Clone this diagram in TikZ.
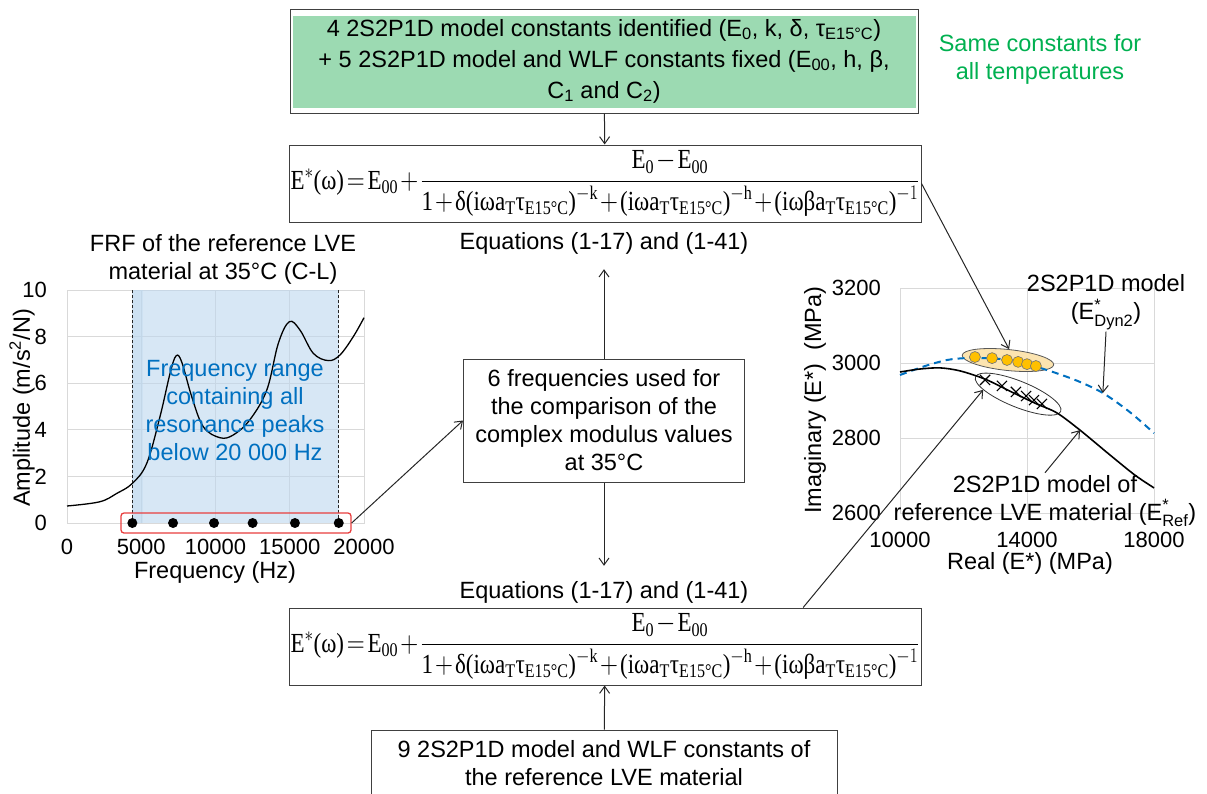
\documentclass[tikz,border=0pt]{standalone}
\usepackage{amsmath}
\usepackage{graphicx}
\usepackage{fontspec}
\setmainfont{Liberation Sans}
\newfontfamily\eqfont{Liberation Serif}
\usetikzlibrary{arrows.meta,positioning,shapes.geometric,shapes.misc,calc}
\definecolor{boxgreen}{RGB}{156,218,178}
\definecolor{txtgreen}{RGB}{0,176,80}
\definecolor{txtblue}{RGB}{0,112,192}
\definecolor{shadeblue}{RGB}{189,215,238}
\definecolor{gridgray}{RGB}{217,217,217}
\definecolor{dotorange}{RGB}{255,192,0}
\definecolor{ellorange}{RGB}{252,228,176}
\definecolor{markred}{RGB}{232,62,62}
\newcommand{\boxfont}{\fontsize{23.5}{28}\selectfont}
\newcommand{\rt}[1]{\text{\eqfont #1}}
\newcommand{\tauE}{\rt{τ}_{\rt{E15°C}}}
\newcommand{\aT}{\rt{a}_{\rt{T}}}
\newcommand{\modeleq}{\scalebox{1}[1.2]{$\medmuskip=1.5mu\thickmuskip=2mu\rt{E}^{*}\rt{(ω)}=\rt{E}_{\rt{00}}+\dfrac{\rt{E}_{\rt{0}}-\rt{E}_{\rt{00}}}{\rt{1}+\rt{δ(iω}\aT\tauE\rt{)}^{-\rt{k}}+\rt{(iω}\aT\tauE\rt{)}^{-\rt{h}}+\rt{(iωβ}\aT\tauE\rt{)}^{-1}}$}}
\tikzset{
 flow/.style={rectangle,draw=black!75,line width=1pt,fill=white,align=center,font=\boxfont,inner sep=0pt},
 greenbox/.style={flow,minimum width=628pt,minimum height=104pt,font=\fontsize{23.5}{31}\selectfont,path picture={\fill[boxgreen] ([xshift=3pt,yshift=-7pt]path picture bounding box.north west) rectangle ([xshift=-2pt,yshift=5pt]path picture bounding box.south east);}},
 eqbox/.style={flow,minimum width=632pt,minimum height=77pt,font=\fontsize{23}{27}\selectfont},
 eqlabel/.style={font=\boxfont,inner sep=0pt,minimum height=52pt},
 note/.style={font=\boxfont,align=center,inner sep=2pt},
 ticklab/.style={font=\fontsize{22}{24}\selectfont,inner sep=0pt},
 gridline/.style={draw=gridgray,line width=1pt},
 rangeline/.style={draw=black!85,line width=1pt,dash pattern=on 3pt off 2pt},
 arrow/.style={-{Straight Barb[length=7pt,width=10pt]},line width=1pt,draw=black!85}}
\begin{document}
\begin{tikzpicture}[x=1pt,y=-1pt]
\useasboundingbox (0,0) rectangle (1207,793);
\node[greenbox] (fitted) at (604,61) {4 2S2P1D model constants identified (E\textsubscript{0}, k, δ, τ\textsubscript{E15°C})\\+ 5 2S2P1D model and WLF constants fixed (E\textsubscript{00}, h, β,\\C\textsubscript{1} and C\textsubscript{2})};
\node[note,text=txtgreen] (same) at (1040,59) {Same constants for\\all temperatures};
\node[eqbox] (eqtop) at (605,183.5) {\modeleq};
\node[eqlabel] (eqlab1) at (604,243) {Equations (1-17) and (1-41)};
\node[flow,minimum width=281pt,minimum height=123pt] (freqs) at (604,420.5) {6 frequencies used for\\the comparison of the\\complex modulus values\\at 35°C};
\node[eqlabel] (eqlab2) at (604,592) {Equations (1-17) and (1-41)};
\node[eqbox] (eqbottom) at (605,646.5) {\modeleq};
\node[flow,minimum width=466pt,minimum height=67pt] (refconst) at (604,763.5) {9 2S2P1D model and WLF constants of\\the reference LVE material};

\node[note] (frftitle) at (223,259) {FRF of the reference LVE\\material at 35°C (C-L)};
\begin{scope}[shift={(67,523)},x=14.85pt,y=23.3pt]
\draw[gridline] (0,0) rectangle (20,10);
\foreach \f in {5,10,15} \draw[gridline] (\f,0) -- (\f,10);
\foreach \a in {2,4,6,8} \draw[gridline] (0,\a) -- (20,\a);
\fill[shadeblue,fill opacity=0.6] (4.4,0) rectangle (18.3,10);
\fill[shadeblue,fill opacity=0.4] (4.4,0) rectangle (5.1,10);
\draw[rangeline] (4.4,0) -- (4.4,10); \draw[rangeline] (18.3,0) -- (18.3,10);
\draw[line width=1.3pt] plot[smooth,tension=0.6] coordinates {(0,0.73) (2.2,0.91) (3.35,1.27) (4.4,1.7) (5.37,2.56) (6.26,4.56) (6.94,6.42) (7.34,7.17) (7.72,6.92) (8.4,5.42) (9.18,4.13) (10.3,3.66) (11.2,3.78) (12.3,4.42) (13.45,5.7) (14.23,7.71) (14.97,8.64) (15.69,8.28) (16.59,7.28) (17.6,6.97) (18.38,7.21) (19.28,8.0) (20,8.81)};
\foreach \a in {0,2,...,10} \node[ticklab,anchor=east] at (-1.35,\a) {\a};
\foreach \f/\l in {0/0,5/5000,10/10000,15/15000,20/20000} \node[ticklab] at (\f,-1.03) {\l};
\end{scope}
\node[note,text=txtblue] (range) at (235,410.5) {Frequency range\\containing all\\resonance peaks\\below 20 000 Hz};
\node[draw=markred,line width=1.3pt,rounded corners=3pt,minimum width=230pt,minimum height=20pt] (sel) at (236,523) {};
\begin{scope}[shift={(67,523)},x=14.85pt,y=23.3pt]
\foreach \f in {4.4,7.14,9.9,12.5,15.35,18.3} \fill (\f,0) circle (5pt);
\end{scope}
\node[note,rotate=90] (ampax) at (22,408) {Amplitude (m/s\textsuperscript{2}/N)};
\node[note] (freqax) at (215,572) {Frequency (Hz)};

\begin{scope}[shift={(900,513)},x=31.75pt,y=0.375pt]
\draw[gridline] (0,0) rectangle (8,600);
\foreach \v in {200,400} \draw[gridline] (0,\v) -- (8,\v);
\draw[gridline] (4,0) -- (4,600);
\node[ellipse,draw=black!65,line width=0.8pt,fill=ellorange,minimum width=92pt,minimum height=21pt,inner sep=0pt,rotate=-6] (dynell) at (3.4,408) {};
\node[ellipse,draw=black!80,line width=0.8pt,minimum width=92pt,minimum height=26pt,inner sep=0pt,rotate=-22] (refell) at (3.72,317) {};
\draw[txtblue,line width=2pt,dash pattern=on 7pt off 5pt] plot[smooth] coordinates {(0,368) (0.79,392) (1.48,408) (2.05,413) (2.68,413) (3.4,408) (4.41,387) (5.51,355) (6.39,320) (7.24,269) (8,213)};
\draw[line width=1.6pt] plot[smooth] coordinates {(0,376) (0.63,384) (1.26,387) (1.89,379) (2.68,357) (3.46,325) (4.25,293) (4.94,267) (5.67,221) (6.61,155) (7.4,101) (8,67)};
\coordinate (dynpt) at (6.39,320); \coordinate (refpt) at (5.67,221);
\foreach \x/\y in {2.68/355,3.21/339,3.65/323,3.97/312,4.22/301,4.47/291} \node[cross out,draw,line width=1.1pt,minimum size=9pt,inner sep=0pt] at (\x,\y) {};
\foreach \x/\y in {2.36/416,2.9/413,3.37/408,3.72/403,4.0/397,4.28/392} \filldraw[fill=dotorange,draw=black!55,line width=0.6pt] (\x,\y) circle (5.5pt);
\foreach \v in {2600,2800,3000,3200} \node[ticklab,anchor=east] at (-0.6,\v-2600) {\v};
\foreach \x/\r in {0/10000,4/14000,8/18000} \node[ticklab] at (\x,-72) {\r};
\end{scope}
\node[note] (realax) at (1030,563) {Real (E*) (MPa)};
\node[note,rotate=90] (imagax) at (815,400) {Imaginary (E*)\ \ (MPa)};
\node[note] (dynlab) at (1106,302) {2S2P1D model\\(E$^{\text{*}}_{\text{Dyn2}}$)};
\node[note] (reflab) at (1045,501) {2S2P1D model of\\reference LVE material (E$^{\text{*}}_{\text{Ref}}$)};

\draw[arrow] (fitted) -- (eqtop); \draw[arrow] (freqs) -- (eqlab1); \draw[arrow] (freqs) -- (eqlab2); \draw[arrow] (refconst) -- (eqbottom);
\draw[arrow] (sel.east) -- (freqs.west);
\draw[arrow] (eqtop.east) -- (dynell.north);
\draw[arrow] ($(eqbottom.north west)!0.813!(eqbottom.north east)$) -- (refell.195);
\draw[arrow] (dynlab.south) -- (dynpt); \draw[arrow] (reflab.north) -- (refpt);
\end{tikzpicture}
\end{document}
